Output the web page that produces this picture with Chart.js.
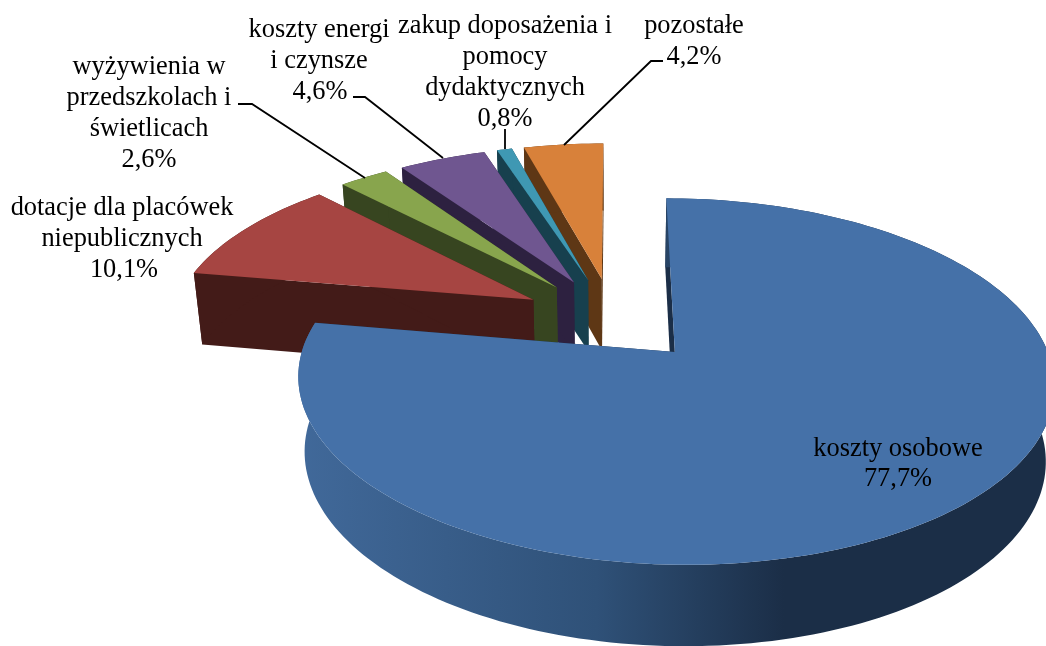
<!DOCTYPE html>
<html>
<head>
<meta charset="utf-8">
<style>
  html, body { margin: 0; padding: 0; background: #fff; }
  canvas { display: block; }
</style>
<script src="https://cdn.jsdelivr.net/npm/chart.js@4"></script>
</head>
<body>
<canvas id="myChart" width="1046" height="646"></canvas>
<script>
// values
const categories = [
  ['koszty osobowe'],
  ['dotacje dla placówek', 'niepublicznych'],
  ['wyżywienia w', 'przedszkolach i', 'świetlicach'],
  ['koszty energi', 'i czynsze'],
  ['zakup doposażenia i', 'pomocy', 'dydaktycznych'],
  ['pozostałe']
];
const shares = [77.7, 10.1, 2.6, 4.6, 0.8, 4.2];

const topColors = ['#4571a8', '#a64542', '#88a54d', '#6f5690', '#3f98b3', '#d8813a'];
const wallColors = ['#1b2e47', '#431b18', '#374520', '#2d2140', '#17404e', '#5e3715'];

// x of the text centre and the baseline of the first line, for each category
const labelX = [898, 122, 149, 319, 505, 694];
const labelY = [456, 215, 74, 37, 33, 33];
const lineGap = [30, 31, 31, 31, 31, 31];
const valueX = [898, 124, 149, 320, 505, 694];

// leader lines, screen pixels
const leaders = [
  null,
  null,
  [[238, 104], [252, 104], [365, 178]],
  [[353, 97], [365, 97], [443, 158]],
  [[505, 129], [505, 149]],
  [[663, 61], [651, 61], [564, 145]]
];

// perspective of the pie plane, fitted to the picture
const view = { x0: 613.5, y0: 319, rx: 362, ry: 168, persp: 0.156, explodeX: 0.255, explodeY: 0.25, shrink: 0.98 };

function project(u, v) {
  const s = 1 / (1 - view.persp * v);
  return { x: view.x0 + view.rx * u * s, y: view.y0 + view.ry * v * s, s: s };
}

function lower(p) {
  return {
    x: view.x0 + (p.x - view.x0) * view.shrink,
    y: p.y + 36 + 37 * p.s
  };
}

function fillPath(ctx, pts, color) {
  ctx.beginPath();
  pts.forEach((p, i) => i ? ctx.lineTo(p.x, p.y) : ctx.moveTo(p.x, p.y));
  ctx.closePath();
  ctx.fillStyle = color;
  ctx.fill();
}

const pie3d = {
  id: 'pie3d',
  beforeDatasetsDraw(chart) {
    const ctx = chart.ctx;
    const arcs = chart.getDatasetMeta(0).data;
    const colors = chart.data.datasets[0].backgroundColor;

    // back slices first, the big one goes over everything
    for (let i = arcs.length - 1; i >= 0; i--) {
      const a = arcs[i];
      const mid = (a.startAngle + a.endAngle) / 2;
      const cu = view.explodeX * Math.cos(mid);
      const cv = view.explodeY * Math.sin(mid);
      const rim = [];
      const n = Math.max(4, Math.ceil((a.endAngle - a.startAngle) * 40));
      for (let k = 0; k <= n; k++) {
        const t = a.startAngle + (a.endAngle - a.startAngle) * k / n;
        rim.push(project(cu + Math.cos(t), cv + Math.sin(t)));
      }
      const apex = project(cu, cv);
      const wall = wallColors[i];

      fillPath(ctx, [apex, rim[0], lower(rim[0]), lower(apex)], wall);
      fillPath(ctx, [apex, rim[n], lower(rim[n]), lower(apex)], wall);

      let rimFill = wall;
      if (i === 0) {
        rimFill = ctx.createLinearGradient(297, 0, 1046, 0);
        rimFill.addColorStop(0, '#41699a');
        rimFill.addColorStop(0.4, '#2f5178');
        rimFill.addColorStop(0.65, wall);
        rimFill.addColorStop(1, wall);
      }
      fillPath(ctx, rim.concat(rim.map(lower).reverse()), rimFill);
      fillPath(ctx, [apex].concat(rim), colors[i]);
    }

    ctx.strokeStyle = '#000';
    ctx.lineWidth = 1.8;
    leaders.forEach(line => {
      if (!line) return;
      ctx.beginPath();
      line.forEach((p, i) => i ? ctx.lineTo(p[0], p[1]) : ctx.moveTo(p[0], p[1]));
      ctx.stroke();
    });

    ctx.fillStyle = '#000';
    ctx.font = '26.4px "Liberation Serif"';
    ctx.textAlign = 'center';
    categories.forEach((lines, i) => {
      lines.forEach((txt, k) => ctx.fillText(txt, labelX[i], labelY[i] + k * lineGap[i]));
      const pct = shares[i].toFixed(1).replace('.', ',') + '%';
      ctx.fillText(pct, valueX[i], labelY[i] + lines.length * lineGap[i]);
    });
    return false;
  }
};

new Chart(document.getElementById('myChart'), {
  type: 'pie',
  data: {
    labels: categories.map(c => c.join(' ')),
    datasets: [{ data: shares, backgroundColor: topColors, borderWidth: 0 }]
  },
  options: {
    responsive: false,
    animation: false,
    plugins: { legend: { display: false }, tooltip: { enabled: false } }
  },
  plugins: [pie3d]
});
</script>
</body>
</html>
